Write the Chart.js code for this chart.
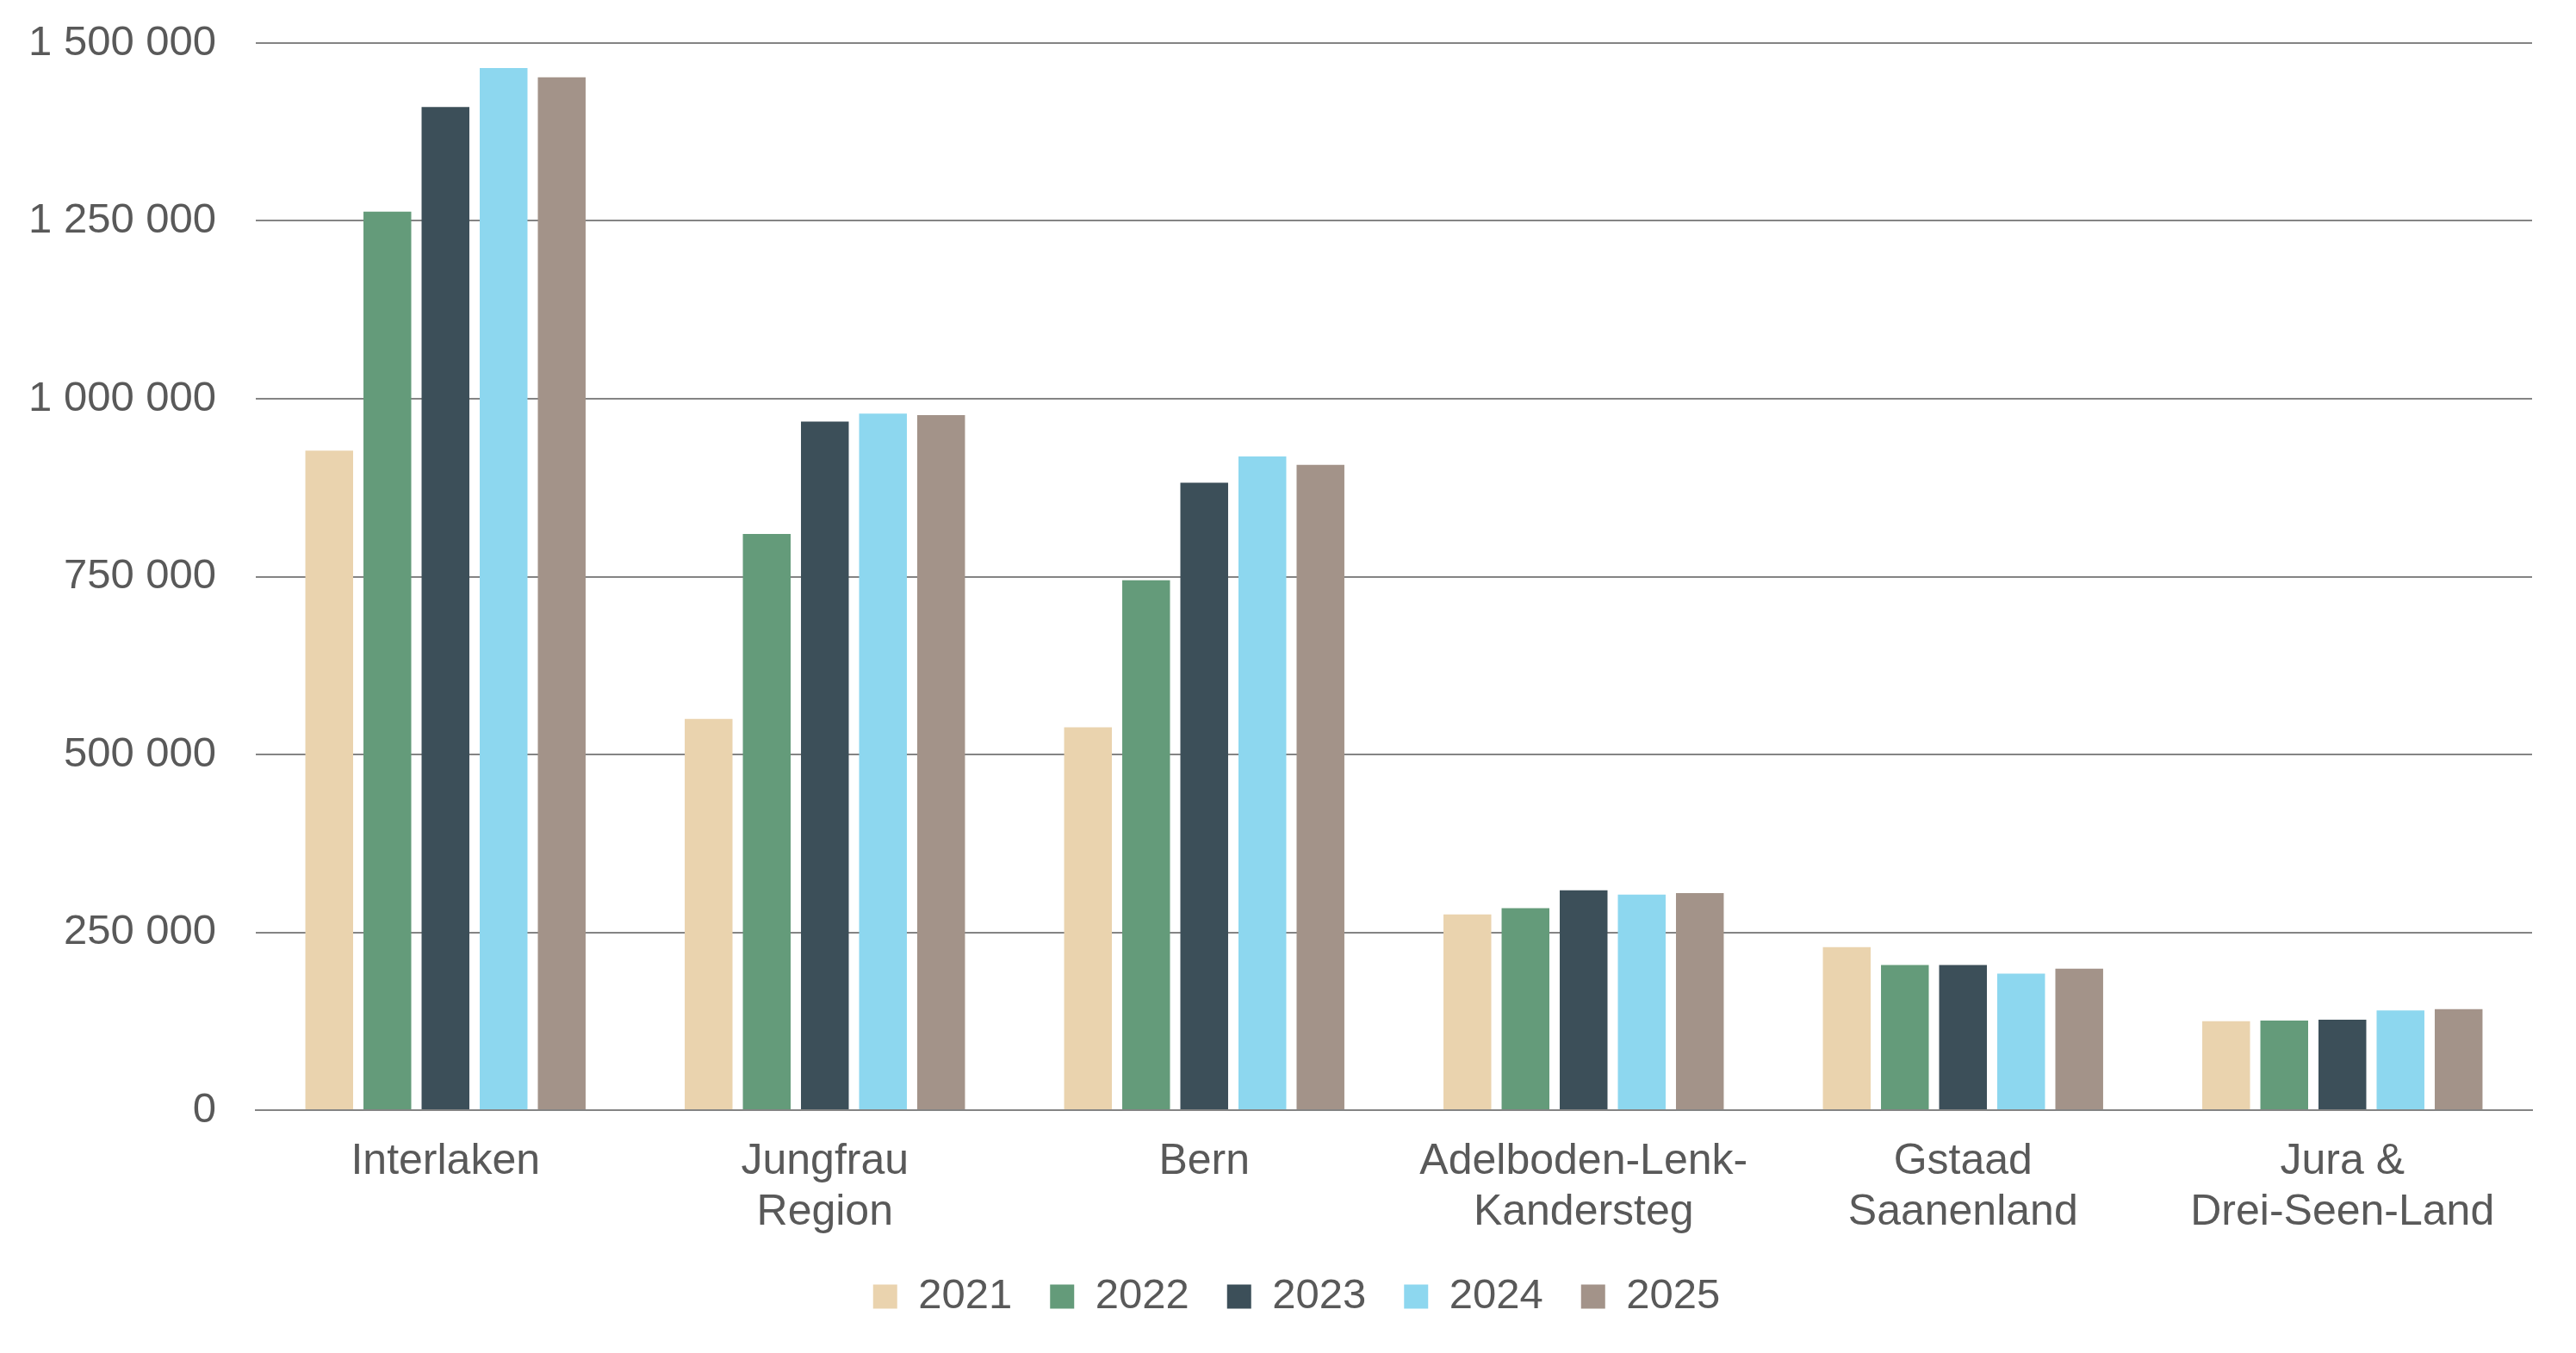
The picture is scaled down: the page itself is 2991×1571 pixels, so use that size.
<!DOCTYPE html>
<html>
<head>
<meta charset="utf-8">
<script src="https://cdn.jsdelivr.net/npm/chart.js@4"></script>
<style>
    html, body { margin: 0; padding: 0; background: #ffffff; }
    #wrap { width: 2991px; height: 1571px; position: relative; }
</style>
</head>
<body>
<div id="wrap"><canvas id="regionChart"></canvas></div>
<script>
// Regions (x axis), two-line labels as in the original
const regions = [
    'Interlaken',
    ['Jungfrau', 'Region'],
    'Bern',
    ['Adelboden-Lenk-', 'Kandersteg'],
    ['Gstaad', 'Saanenland'],
    ['Jura &', 'Drei-Seen-Land']
];

const years = ['2021', '2022', '2023', '2024', '2025'];

// values per year, same order as regions
const values2021 = [927000, 550000, 538000, 275000, 229000, 125000];
const values2022 = [1263000, 810000, 745000, 284000, 204000, 126000];
const values2023 = [1410000, 968000, 882000, 309000, 204000, 127000];
const values2024 = [1465000, 979000, 919000, 303000, 192000, 140000];
const values2025 = [1452000, 977000, 907000, 305000, 199000, 142000];

const yearColors = ['#EAD3AE', '#649B7A', '#3C4F59', '#8DD7EF', '#A39389'];

document.addEventListener('DOMContentLoaded', function () {
    initRegionChart();
});

function formatThousands(value) {
    return value.toString().replace(/\B(?=(\d{3})+(?!\d))/g, ' ');
}

// nudge the legend a bit to the right, the original isn't centred on the canvas
const legendShift = {
    id: 'legendShift',
    afterLayout: function (chart) {
        if (chart.legend) {
            chart.legend.left += 40;
        }
    }
};

function initRegionChart() {
    const series = [values2021, values2022, values2023, values2024, values2025];

    const data = {
        labels: regions,
        datasets: years.map((year, i) => ({
            label: year,
            data: series[i],
            backgroundColor: yearColors[i],
            borderWidth: 0,
            categoryPercentage: 0.766,
            barPercentage: 0.822
        }))
    };

    const textColor = '#595959';
    const gridColor = '#848484';
    const fontFamily = '"Liberation Sans", Arial, sans-serif';

    const config = {
        type: 'bar',
        data: data,
        plugins: [legendShift],
        options: {
            responsive: true,
            maintainAspectRatio: false,
            animation: false,
            devicePixelRatio: 1,
            layout: {
                padding: { top: 1, right: 51, left: 31, bottom: 31 }
            },
            plugins: {
                legend: {
                    position: 'bottom',
                    labels: {
                        color: textColor,
                        boxWidth: 28,
                        boxHeight: 28,
                        padding: 44,
                        font: { family: fontFamily, size: 49 }
                    }
                },
                tooltip: { enabled: false }
            },
            scales: {
                y: {
                    min: 0,
                    max: 1500000,
                    afterFit: function (scale) {
                        // tick padding is counted twice by chart.js, keep it once
                        scale.width = 266;
                        scale.paddingTop = 50;
                        scale.paddingBottom = 0;
                    },
                    ticks: {
                        stepSize: 250000,
                        color: textColor,
                        padding: 46,
                        font: { family: fontFamily, size: 49 },
                        callback: function (value) {
                            return formatThousands(value);
                        }
                    },
                    grid: {
                        color: gridColor,
                        lineWidth: 2,
                        drawTicks: false
                    },
                    border: { display: false }
                },
                x: {
                    afterFit: function (scale) {
                        scale.height -= 31;
                    },
                    ticks: {
                        color: textColor,
                        padding: 31,
                        font: { family: fontFamily, size: 50, lineHeight: 1.17 },
                        maxRotation: 0,
                        autoSkip: false
                    },
                    grid: {
                        display: false,
                        drawTicks: false
                    },
                    border: {
                        display: true,
                        color: gridColor,
                        width: 2
                    }
                }
            }
        }
    };

    const ctx = document.getElementById('regionChart').getContext('2d');
    new Chart(ctx, config);
}
</script>
</body>
</html>
